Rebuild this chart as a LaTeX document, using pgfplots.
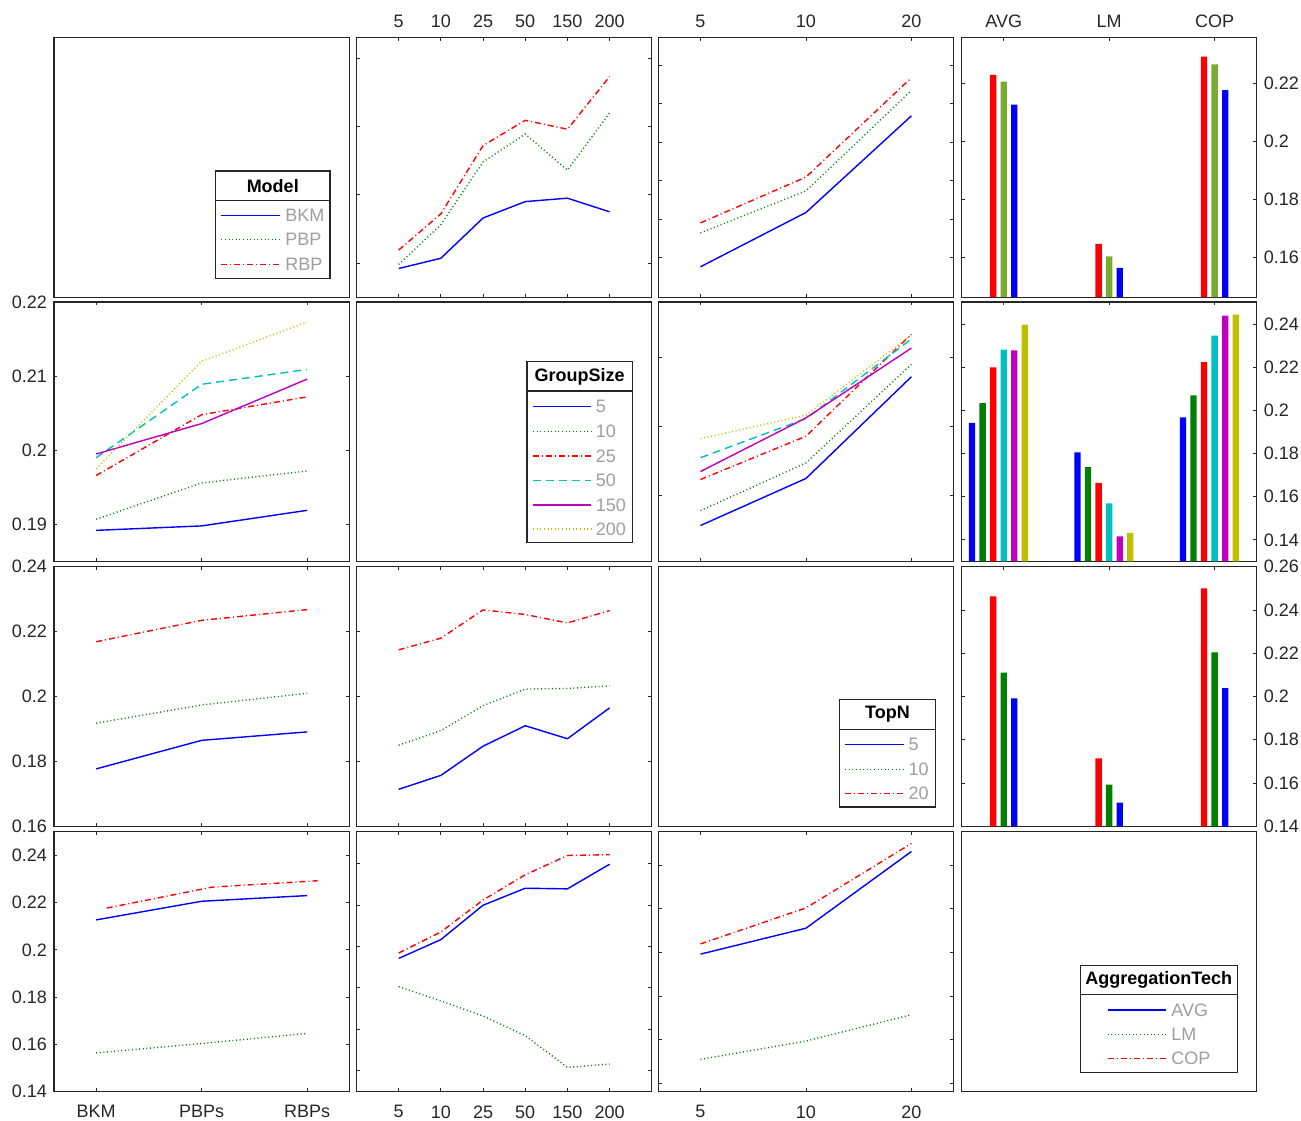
\documentclass[border=0pt]{standalone}
\usepackage{fontspec}
\setmainfont{Liberation Sans}
\usepackage{pgfplots}
\usepackage{pgfplotstable}
\pgfplotsset{compat=1.18}

\definecolor{axgray}{rgb}{0.15,0.15,0.15}
\definecolor{leggray}{rgb}{0.62,0.62,0.62}
\definecolor{mBlue}{rgb}{0,0,1}
\definecolor{mGreen}{rgb}{0,0.5,0}
\definecolor{mRed}{rgb}{1,0,0}
\definecolor{mCyan}{rgb}{0,0.75,0.75}
\definecolor{mMagenta}{rgb}{0.75,0,0.75}
\definecolor{mYellow}{rgb}{0.75,0.75,0}
\definecolor{mOlive}{rgb}{0.466,0.674,0.188}

% cell means: Model x GroupSize
\pgfplotstableread{
g    BKM    PBP    RBP
g5   0.1892 0.1898 0.1919
g10  0.1907 0.1956 0.1972
g25  0.1966 0.2048 0.2072
g50  0.1990 0.2089 0.2109
g150 0.1995 0.2036 0.2096
g200 0.1975 0.2120 0.2173
}\MG
% Model x TopN
\pgfplotstableread{
g   BKM    PBP    RBP
t5  0.1777 0.1865 0.1891
t10 0.1918 0.1974 0.2010
t20 0.2169 0.2235 0.2268
}\MT
% Model x AggregationTech
\pgfplotstableread{
g   BKM    PBP    RBP
AVG 0.2127 0.2206 0.2230
LM  0.1563 0.1603 0.1646
COP 0.2177 0.2266 0.2293
}\MA
% GroupSize x TopN
\pgfplotstableread{
g    t5     t10    t20
g5   0.1714 0.1850 0.2144
g10  0.1757 0.1895 0.2180
g25  0.1847 0.1972 0.2267
g50  0.1910 0.2023 0.2253
g150 0.1870 0.2025 0.2227
g200 0.1965 0.2033 0.2265
}\GT
% GroupSize x AggregationTech
\pgfplotstableread{
g    AVG    LM     COP
g5   0.1942 0.1806 0.1968
g10  0.2033 0.1737 0.2070
g25  0.2199 0.1664 0.2224
g50  0.2281 0.1569 0.2346
g150 0.2278 0.1416 0.2439
g200 0.2397 0.1432 0.2443
}\GA
% TopN x AggregationTech
\pgfplotstableread{
g   AVG    LM     COP
t5  0.1992 0.1509 0.2039
t10 0.2111 0.1593 0.2204
t20 0.2463 0.1714 0.2500
}\TA

\pgfplotstabletranspose[colnames from=g]{\MGt}{\MG}
\pgfplotstabletranspose[colnames from=g]{\MTt}{\MT}
\pgfplotstabletranspose[colnames from=g]{\MAt}{\MA}
\pgfplotstabletranspose[colnames from=g]{\GTt}{\GT}
\pgfplotstabletranspose[colnames from=g]{\GAt}{\GA}
\pgfplotstabletranspose[colnames from=g]{\TAt}{\TA}

\tikzset{
  s1/.style={mBlue, solid, line width=0.7pt},
  s2/.style={mGreen, line width=0.7pt, dash pattern=on 0.5pt off 1.3pt},
  s3/.style={mRed, line width=0.7pt, dash pattern=on 3pt off 1.5pt on 0.5pt off 1.5pt},
  s4/.style={mCyan, line width=0.7pt, dash pattern=on 4pt off 2.5pt},
  s5/.style={mMagenta, solid, line width=0.7pt},
  s6/.style={mYellow, line width=0.7pt, dash pattern=on 0.5pt off 1.3pt},
  legbox/.style={draw=axgray, line width=0.55pt, fill=white},
  legtxt/.style={anchor=west, inner sep=0pt, text=leggray, font=\fontsize{9}{10}\selectfont},
  legtitle/.style={inner sep=0pt, text=black, font=\bfseries\fontsize{9}{10}\selectfont},
}

\pgfplotsset{
  panel/.style={
    scale only axis, width=147.65pt, height=129.75pt, anchor=south west,
    axis line style={draw=axgray, line width=0.55pt},
    major tick style={draw=axgray, line width=0.45pt},
    major tick length=1.7pt, tick align=inside,
    xtick pos=both, ytick pos=both,
    ticklabel style={font=\fontsize{9}{10}\selectfont, text=axgray},
    /pgf/number format/assume math mode=true,
    xticklabels={}, yticklabels={},
  },
  cat3/.style={xmin=0.6, xmax=3.4, xtick={1,2,3}},
  cat6/.style={xmin=0, xmax=7, xtick={1,2,3,4,5,6}},
  diag/.style={xmin=0, xmax=1, ymin=0, ymax=1, xtick=\empty, ytick=\empty},
  toplab/.style={xticklabel pos=upper, xticklabel style={yshift=1.5pt}},
  botlab/.style={xticklabel pos=lower, xticklabel style={yshift=-3.5pt}},
  bars/.style={ybar, bar width=0.06, draw=none},
}

\begin{document}
\begin{tikzpicture}
\path[use as bounding box] (0,0) rectangle (650.5pt,560pt);

% ---------------- row 1: Model ----------------
\begin{axis}[panel, diag, at={(27pt,411.4pt)}]
\end{axis}

\begin{axis}[panel, cat6, toplab, at={(178.25pt,411.4pt)},
  ymin=0.185, ymax=0.223, ytick={0.19,0.20,0.21,0.22},
  xticklabels={5,10,25,50,150,200}]
\addplot[s1] table[x expr=\coordindex+1, y=BKM]{\MG};
\addplot[s2] table[x expr=\coordindex+1, y=PBP]{\MG};
\addplot[s3] table[x expr=\coordindex+1, y=RBP]{\MG};
\end{axis}

\begin{axis}[panel, cat3, toplab, at={(329.15pt,411.4pt)},
  ymin=0.1698, ymax=0.2372, ytick={0.18,0.19,0.20,0.21,0.22,0.23},
  xticklabels={5,10,20}]
\addplot[s1] table[x expr=\coordindex+1, y=BKM]{\MT};
\addplot[s2] table[x expr=\coordindex+1, y=PBP]{\MT};
\addplot[s3] table[x expr=\coordindex+1, y=RBP]{\MT};
\end{axis}

\begin{axis}[panel, cat3, toplab, at={(480.75pt,411.4pt)},
  ymin=0.1462, ymax=0.2358, ytick={0.16,0.18,0.20,0.22},
  yticklabels={0.16,0.18,0.2,0.22}, yticklabel pos=right,
  xticklabels={AVG,LM,COP}]
\addplot[bars, fill=mRed,  bar shift=-0.1] table[x expr=\coordindex+1, y=RBP]{\MA};
\addplot[bars, fill=mOlive, bar shift=0]   table[x expr=\coordindex+1, y=PBP]{\MA};
\addplot[bars, fill=mBlue, bar shift=0.1]  table[x expr=\coordindex+1, y=BKM]{\MA};
\end{axis}

% ---------------- row 2: GroupSize ----------------
\begin{axis}[panel, cat3, at={(27pt,279.25pt)},
  ymin=0.185, ymax=0.22, ytick={0.19,0.20,0.21,0.22},
  yticklabels={0.19,0.2,0.21,0.22}]
\addplot[s1] table[x expr=\coordindex+1, y=g5]{\MGt};
\addplot[s2] table[x expr=\coordindex+1, y=g10]{\MGt};
\addplot[s3] table[x expr=\coordindex+1, y=g25]{\MGt};
\addplot[s4] table[x expr=\coordindex+1, y=g50]{\MGt};
\addplot[s5] table[x expr=\coordindex+1, y=g150]{\MGt};
\addplot[s6] table[x expr=\coordindex+1, y=g200]{\MGt};
\end{axis}

\begin{axis}[panel, diag, at={(178.25pt,279.25pt)}]
\end{axis}

\begin{axis}[panel, cat3, at={(329.15pt,279.25pt)},
  ymin=0.161, ymax=0.236, ytick={0.18,0.20,0.22}]
\addplot[s1] table[x expr=\coordindex+1, y=g5]{\GTt};
\addplot[s2] table[x expr=\coordindex+1, y=g10]{\GTt};
\addplot[s3] table[x expr=\coordindex+1, y=g25]{\GTt};
\addplot[s4] table[x expr=\coordindex+1, y=g50]{\GTt};
\addplot[s5] table[x expr=\coordindex+1, y=g150]{\GTt};
\addplot[s6] table[x expr=\coordindex+1, y=g200]{\GTt};
\end{axis}

\begin{axis}[panel, cat3, at={(480.75pt,279.25pt)},
  ymin=0.13, ymax=0.2502, ytick={0.14,0.16,0.18,0.20,0.22,0.24},
  yticklabels={0.14,0.16,0.18,0.2,0.22,0.24}, yticklabel pos=right]
\addplot[bars, fill=mBlue,    bar shift=-0.3] table[x expr=\coordindex+1, y=g5]{\GAt};
\addplot[bars, fill=mGreen,   bar shift=-0.2] table[x expr=\coordindex+1, y=g10]{\GAt};
\addplot[bars, fill=mRed,     bar shift=-0.1] table[x expr=\coordindex+1, y=g25]{\GAt};
\addplot[bars, fill=mCyan,    bar shift=0]    table[x expr=\coordindex+1, y=g50]{\GAt};
\addplot[bars, fill=mMagenta, bar shift=0.1]  table[x expr=\coordindex+1, y=g150]{\GAt};
\addplot[bars, fill=mYellow,  bar shift=0.2]  table[x expr=\coordindex+1, y=g200]{\GAt};
\end{axis}

% ---------------- row 3: TopN ----------------
\begin{axis}[panel, cat3, at={(27pt,146.85pt)},
  ymin=0.16, ymax=0.24, ytick={0.16,0.18,0.20,0.22,0.24},
  yticklabels={0.16,0.18,0.2,0.22,0.24}]
\addplot[s1] table[x expr=\coordindex+1, y=t5]{\MTt};
\addplot[s2] table[x expr=\coordindex+1, y=t10]{\MTt};
\addplot[s3] table[x expr=\coordindex+1, y=t20]{\MTt};
\end{axis}

\begin{axis}[panel, cat6, at={(178.25pt,146.85pt)},
  ymin=0.16, ymax=0.24, ytick={0.16,0.18,0.20,0.22,0.24}]
\addplot[s1] table[x expr=\coordindex+1, y=t5]{\GT};
\addplot[s2] table[x expr=\coordindex+1, y=t10]{\GT};
\addplot[s3] table[x expr=\coordindex+1, y=t20]{\GT};
\end{axis}

\begin{axis}[panel, diag, at={(329.15pt,146.85pt)}]
\end{axis}

\begin{axis}[panel, cat3, at={(480.75pt,146.85pt)},
  ymin=0.14, ymax=0.26, ytick={0.14,0.16,0.18,0.20,0.22,0.24,0.26},
  yticklabels={0.14,0.16,0.18,0.2,0.22,0.24,0.26}, yticklabel pos=right]
\addplot[bars, fill=mRed,   bar shift=-0.1] table[x expr=\coordindex+1, y=t20]{\TAt};
\addplot[bars, fill=mGreen, bar shift=0]    table[x expr=\coordindex+1, y=t10]{\TAt};
\addplot[bars, fill=mBlue,  bar shift=0.1]  table[x expr=\coordindex+1, y=t5]{\TAt};
\end{axis}

% ---------------- row 4: AggregationTech ----------------
\begin{axis}[panel, cat3, botlab, at={(27pt,14.3pt)},
  ymin=0.14, ymax=0.25, ytick={0.14,0.16,0.18,0.20,0.22,0.24},
  yticklabels={0.14,0.16,0.18,0.2,0.22,0.24},
  xticklabels={BKM,PBPs,RBPs}]
\addplot[s1] table[x expr=\coordindex+1, y=AVG]{\MAt};
\addplot[s2] table[x expr=\coordindex+1, y=LM]{\MAt};
\addplot[s3, xshift=5.27pt] table[x expr=\coordindex+1, y=COP]{\MAt};
\end{axis}

\begin{axis}[panel, cat6, botlab, at={(178.25pt,14.3pt)},
  ymin=0.13, ymax=0.2553, ytick={0.14,0.16,0.18,0.20,0.22,0.24},
  xticklabels={5,10,25,50,150,200}]
\addplot[s1] table[x expr=\coordindex+1, y=AVG]{\GA};
\addplot[s2] table[x expr=\coordindex+1, y=LM]{\GA};
\addplot[s3] table[x expr=\coordindex+1, y=COP]{\GA};
\end{axis}

\begin{axis}[panel, cat3, botlab, at={(329.15pt,14.3pt)},
  ymin=0.1362, ymax=0.2553, ytick={0.14,0.16,0.18,0.20,0.22,0.24},
  xticklabels={5,10,20}]
\addplot[s1] table[x expr=\coordindex+1, y=AVG]{\TA};
\addplot[s2] table[x expr=\coordindex+1, y=LM]{\TA};
\addplot[s3] table[x expr=\coordindex+1, y=COP]{\TA};
\end{axis}

\begin{axis}[panel, diag, at={(480.75pt,14.3pt)}]
\end{axis}

% ---------------- legends (pixel grid, origin top left) ----------------
\begin{scope}[shift={(0pt,560pt)}, x=0.5pt, y=-0.5pt]
  % Model
  \draw[legbox] (215.5,171) rectangle (330,278.3);
  \draw[axgray, line width=0.55pt] (215.5,200.7) -- (330,200.7);
  \node[legtitle] at (272.75,186) {Model};
  \draw[s1] (221.4,215.7) -- (279.9,215.7); \node[legtxt] at (285,215.7) {BKM};
  \draw[s2] (221.4,239.3) -- (279.9,239.3); \node[legtxt] at (285,239.3) {PBP};
  \draw[s3] (221.4,264.3) -- (279.9,264.3); \node[legtxt] at (285,264.3) {RBP};
  % GroupSize
  \draw[legbox] (527,361.7) rectangle (632.2,542.3);
  \draw[axgray, line width=0.55pt] (527,391) -- (632.2,391);
  \node[legtitle] at (579.6,376.4) {GroupSize};
  \draw[s1] (533.2,406.3) -- (591.3,406.3); \node[legtxt] at (595.5,406.3) {5};
  \draw[s2] (533.2,431.7) -- (591.3,431.7); \node[legtxt] at (595.5,431.7) {10};
  \draw[s3] (533.2,456.0) -- (591.3,456.0); \node[legtxt] at (595.5,456.0) {25};
  \draw[s4] (533.2,480.3) -- (591.3,480.3); \node[legtxt] at (595.5,480.3) {50};
  \draw[s5] (533.2,505.0) -- (591.3,505.0); \node[legtxt] at (595.5,505.0) {150};
  \draw[s6] (533.2,529.0) -- (591.3,529.0); \node[legtxt] at (595.5,529.0) {200};
  % TopN
  \draw[legbox] (839.7,699.3) rectangle (935.2,807);
  \draw[axgray, line width=0.55pt] (839.7,729.3) -- (935.2,729.3);
  \node[legtitle] at (887.45,714.3) {TopN};
  \draw[s1] (845.1,744.3) -- (904.1,744.3); \node[legtxt] at (908.2,744.3) {5};
  \draw[s2] (845.1,769.3) -- (904.1,769.3); \node[legtxt] at (908.2,769.3) {10};
  \draw[s3] (845.1,793.3) -- (904.1,793.3); \node[legtxt] at (908.2,793.3) {20};
  % AggregationTech
  \draw[legbox] (1080.1,965.3) rectangle (1237.5,1072.7);
  \draw[axgray, line width=0.55pt] (1080.1,994.7) -- (1237.5,994.7);
  \node[legtitle] at (1158.8,980) {AggregationTech};
  \draw[s1] (1107.5,1010.0) -- (1165.6,1010.0); \node[legtxt] at (1171,1010.0) {AVG};
  \draw[s2] (1107.5,1034.3) -- (1165.6,1034.3); \node[legtxt] at (1171,1034.3) {LM};
  \draw[s3] (1107.5,1058.7) -- (1165.6,1058.7); \node[legtxt] at (1171,1058.7) {COP};
\end{scope}
\end{tikzpicture}
\end{document}
